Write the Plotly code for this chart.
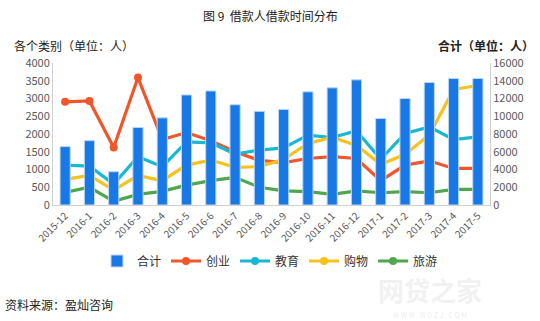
import plotly.graph_objects as go

months = ["2015-12","2016-1","2016-2","2016-3","2016-4","2016-5","2016-6","2016-7","2016-8",
          "2016-9","2016-10","2016-11","2016-12","2017-1","2017-2","2017-3","2017-4","2017-5"]
total = [6580,7250,3750,8740,9820,12400,12850,11300,10550,10770,12750,13200,14100,9750,12000,13800,14250,14250]
chuangye = [2905,2930,1620,3590,1845,2040,1810,1500,1255,1195,1310,1360,1310,685,1125,1245,1030,1030]
jiaoyu = [1125,1095,590,1360,1080,1780,1750,1435,1545,1610,1970,1900,2090,1285,2015,2200,1845,1920]
gouwu = [720,835,420,830,685,1125,1265,1060,1080,1285,1735,1910,1680,1145,1425,1970,3255,3365]
lvyou = [355,500,105,300,385,560,685,780,500,400,375,300,400,345,375,345,440,440]

FONT = "Noto Sans CJK SC, Microsoft YaHei, sans-serif"
W, H = 540, 321
L, R, T, B = 53, 50, 63, 116
PW, PH = W - L - R, H - T - B

fig = go.Figure()
fig.add_trace(go.Bar(x=months, y=total, name="合计", yaxis="y2",
                     marker=dict(color="#1878e6", line=dict(color="#bcd7f2", width=1)),
                     width=0.42))
series = [("创业", chuangye, "#f0562a"), ("教育", jiaoyu, "#1ab8d0"),
          ("购物", gouwu, "#f8c21c"), ("旅游", lvyou, "#4fa64d")]
for name, vals, col in series:
    fig.add_trace(go.Scatter(x=months, y=vals, name=name, mode="lines+markers",
                             line=dict(color=col, width=3.2),
                             marker=dict(color=col, size=8)))

fig.update_layout(
    template="none",
    width=W, height=H,
    margin=dict(l=L, r=R, t=T, b=B, autoexpand=False),
    paper_bgcolor="white", plot_bgcolor="white",
    font=dict(family=FONT, size=11, color="#595959"),
    showlegend=True,
    legend=dict(orientation="h", xref="container", yref="container",
                x=0.5, xanchor="center", y=1 - 261/321, yanchor="middle",
                font=dict(size=12, color="#333333"), itemwidth=30,
                tracegroupgap=0, bgcolor="rgba(0,0,0,0)"),
    xaxis=dict(type="category", range=[-0.5, 17.5], tickangle=-45, automargin=False,
               showline=True, linecolor="#d0d0d0", linewidth=1,
               ticks="", showgrid=False, tickfont=dict(size=10, color="#595959")),
    yaxis=dict(range=[0, 4000], dtick=500, showgrid=False, zeroline=False, automargin=False,
               showline=True, linecolor="#d0d0d0", linewidth=1, ticks="", tickformat="d",
               tickfont=dict(size=11, color="#595959")),
    yaxis2=dict(range=[0, 16000], dtick=2000, overlaying="y", side="right", automargin=False,
                showgrid=False, zeroline=False, showline=True, linecolor="#d0d0d0",
                ticks="", tickformat="d", tickfont=dict(size=11, color="#595959")),
)

ann = [
    dict(text="图 9  借款人借款时间分布", x=270, y=15, font=dict(size=12, color="#222222")),
    dict(text="各个类别（单位：人）", x=12, y=46, xanchor="left", font=dict(size=12, color="#222222")),
    dict(text="<b>合计（单位：人）</b>", x=536, y=46, xanchor="right", font=dict(size=12, color="#222222")),
    dict(text="资料来源：盈灿咨询", x=3, y=304, xanchor="left", font=dict(size=12, color="#222222")),
    dict(text="<b>网贷之家</b>", x=430, y=289, font=dict(size=26, color="rgba(200,200,200,0.25)")),
    dict(text="W W W . W D Z J . C O M", x=430, y=315, font=dict(size=7, color="rgba(200,200,200,0.35)")),
]
for a in ann:
    fig.add_annotation(text=a["text"], xref="paper", yref="paper",
                       x=(a["x"] - L) / PW, y=(H - B - a["y"]) / PH,
                       xanchor=a.get("xanchor", "center"), yanchor="middle",
                       showarrow=False, font=dict(family=FONT, **a["font"]))

fig.write_html("out.html")
